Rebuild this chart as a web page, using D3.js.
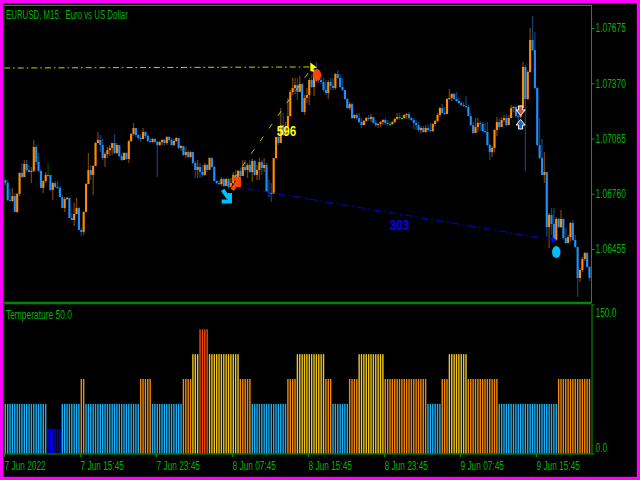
<!DOCTYPE html>
<html><head><meta charset="utf-8">
<script src="https://cdn.jsdelivr.net/npm/d3@7/dist/d3.min.js"></script>
<style>html,body{margin:0;padding:0;background:#000}svg{display:block}text{font-family:"Liberation Sans",Arial,sans-serif;white-space:pre}</style>
</head><body><svg id="c" width="640" height="480"></svg>
<script>
// Prices are in points (1e-5) above 1.06000
const BASE_PRICE = 1.06;
const FIRST_OPEN = 836;
const closePts = [
819,725,720,748,659,759,875,852,924,891,880,886,1018,935,886,792,830,864,864,781,
819,797,792,742,681,731,737,626,615,648,681,560,549,659,814,891,864,913,1040,1057,
1029,957,979,1001,1013,1040,985,1029,968,946,985,952,1051,1090,1123,1084,1068,1062,1101,1079,
1051,1046,1062,1046,1029,1046,1057,1040,1073,1057,1029,1051,1068,1013,1024,974,990,963,990,930,
891,908,880,864,919,891,957,908,830,819,814,841,803,841,797,819,864,847,886,858,
908,891,919,880,941,864,891,935,902,919,770,764,759,957,1073,1040,1139,1084,1123,1189,
1322,1344,1360,1322,1366,1211,1289,1305,1388,1349,1415,1399,1388,1377,1333,1316,1377,1355,1344,1421,
1399,1349,1333,1283,1233,1255,1178,1195,1178,1156,1139,1162,1178,1173,1184,1151,1139,1145,1156,1167,
1151,1145,1145,1156,1173,1184,1178,1178,1195,1200,1178,1167,1151,1139,1112,1123,1101,1123,1112,1106,
1145,1162,1195,1233,1206,1200,1283,1289,1311,1283,1272,1261,1250,1244,1239,1189,1139,1095,1128,1151,
1145,1106,1101,1029,990,1013,1112,1156,1128,1167,1178,1139,1178,1233,1239,1189,1184,1233,1460,1283,
1432,1609,1553,1344,1029,957,864,880,576,643,593,505,621,576,621,516,488,521,599,505,
466,295,339,400,433,356,295];
const highPts = [
841,836,786,792,764,764,880,930,946,946,919,908,1057,1029,985,897,836,880,930,864,
825,830,830,803,753,742,742,737,654,709,737,687,571,665,819,985,919,919,1046,1101,
1084,1062,990,1018,1029,1040,1090,1040,1024,985,990,990,1057,1095,1151,1123,1090,1090,1123,1106,
1090,1068,1068,1068,1051,1051,1062,1062,1079,1079,1068,1062,1073,1062,1029,1018,1018,1001,996,990,
941,946,930,919,930,924,963,963,913,836,836,852,847,847,847,847,880,891,891,902,
946,946,930,946,952,946,919,957,946,957,930,836,819,957,1073,1123,1233,1206,1156,1289,
1333,1399,1399,1399,1410,1371,1305,1344,1399,1415,1454,1487,1427,1421,1399,1388,1388,1399,1399,1427,
1443,1421,1399,1333,1289,1266,1261,1200,1206,1206,1178,1167,1184,1195,1200,1184,1167,1151,1162,1173,
1178,1167,1162,1162,1178,1206,1206,1195,1200,1206,1211,1184,1178,1167,1156,1134,1134,1139,1139,1151,
1151,1167,1206,1239,1255,1239,1289,1338,1316,1316,1322,1289,1272,1266,1300,1250,1206,1156,1178,1178,
1162,1156,1151,1156,1035,1024,1117,1184,1178,1184,1195,1200,1195,1250,1244,1244,1250,1250,1487,1471,
1443,1675,1741,1653,1349,1178,1062,990,880,654,681,681,632,626,670,626,571,532,604,615,
532,466,350,411,438,438,361];
const lowPts = [
808,720,720,714,659,654,748,847,858,880,880,819,880,919,880,792,764,819,852,775,
725,792,786,742,681,659,725,626,615,582,654,560,527,532,659,814,836,753,913,1040,
990,946,908,957,968,974,979,979,963,941,946,946,930,1046,1079,1073,1057,1046,1062,1068,
1046,1040,1040,1040,852,1024,1029,1024,1029,1046,1024,1024,1046,1007,996,968,957,957,957,924,
847,847,847,852,858,880,902,902,830,814,808,803,797,803,786,797,814,836,830,852,
864,880,847,875,825,858,836,836,864,880,770,742,714,770,952,1029,1040,1079,1084,1123,
1184,1305,1311,1277,1322,1211,1195,1261,1250,1344,1300,1377,1371,1366,1322,1305,1283,1333,1333,1333,
1393,1344,1327,1277,1228,1222,1173,1173,1167,1151,1123,1139,1156,1162,1156,1145,1128,1123,1128,1139,
1139,1134,1134,1139,1151,1167,1167,1167,1173,1173,1167,1162,1117,1112,1101,1095,1095,1095,1101,1101,
1101,1134,1156,1184,1200,1195,1200,1277,1272,1277,1266,1255,1244,1239,1233,1189,1134,1090,1095,1101,
1106,1101,1095,1024,946,963,990,1079,1117,1128,1156,1134,1145,1178,1211,1178,1139,1178,1233,886,
1277,1427,1548,1338,1024,952,864,819,521,461,532,499,499,571,571,505,483,488,499,499,
461,190,273,328,389,350,278];
const tempLevels = [50,25,50,75,50,75,50,75,100,125,100,75,50,75,100,75,50,75,100,75,50,75,100,75,50,75];
const tempBarCounts = [18,6,8,2,23,5,13,4,3,4,13,5,15,4,12,3,7,4,11,18,6,3,8,13,25,14];
const priceTicks = [1.06455,1.0676,1.07065,1.0737,1.07675];
const tempTicks = [0,150];
const timeTickBars = [-0.5,31.5,63.5,95.5,127.5,159.5,191.5,223.5];
const timeLabels = ["7 Jun 2022","7 Jun 15:45","7 Jun 23:45","8 Jun 07:45","8 Jun 15:45","8 Jun 23:45","9 Jun 07:45","9 Jun 15:45"];
const titleText = "EURUSD, M15:  Euro vs US Dollar";
const subTitle = "Temperature 50.0";
const yellowLevelBars = [-0.5,129], yellowLevelPts = [1454,1460];
const yellowTrendBars = [96,129], yellowTrendPts = [841,1454];
const blueTrendBars = [95,231], blueTrendPts = [803,505];
const labelNames = ["596","303"], labelBars = [118.4,166], labelPts = [1109,593];

const GREEN="#00b400", UP="#ff8c00", DOWN="#1e90ff", DOJI="#00e000";
const tempColor = {25:"#0000e8",50:"#1eb0f5",75:"#f08a0a",100:"#f0c81e",125:"#f04a10"};
const price = p => BASE_PRICE + p/1e5;
const svg = d3.select("#c");
const x = d3.scaleLinear().domain([0,246]).range([5.3,589.5]);
const y = d3.scaleLinear().domain([1.06455,1.07675]).range([249,28]);
const yT = d3.scaleLinear().domain([0,150]).range([453.5,304.5]);
const yp = p => y(price(p));

svg.append("rect").attr("width",640).attr("height",480).attr("fill","#000");
// outer magenta frame
svg.append("rect").attr("x",1.5).attr("y",1.5).attr("width",637).attr("height",477).attr("fill","none").attr("stroke","#ff00ff").attr("stroke-width",3.4);

// candles
const candles = closePts.map((c,i)=>({i,c,o:i?closePts[i-1]:FIRST_OPEN,h:highPts[i],l:lowPts[i]}));
const col = d => d.c>d.o?UP:d.c<d.o?DOWN:DOJI;
const g = svg.append("g");
g.selectAll("line.w").data(candles).join("line").attr("class","w")
 .attr("x1",d=>x(d.i)).attr("x2",d=>x(d.i)).attr("y1",d=>yp(d.h)).attr("y2",d=>yp(d.l))
 .attr("stroke",d=>col(d)==DOJI?"#00a000":col(d)).attr("stroke-opacity",.45).attr("stroke-width",1.3);
g.selectAll("rect.b").data(candles).join("rect").attr("class","b")
 .attr("x",d=>x(d.i)-1.05).attr("width",2.1)
 .attr("y",d=>Math.min(yp(d.o),yp(d.c))).attr("height",d=>Math.max(1,Math.abs(yp(d.o)-yp(d.c))))
 .attr("fill",col);

// trend lines
const seg=(bars,pts,c,dash,w)=>svg.append("line").attr("x1",x(bars[0])).attr("x2",x(bars[1])).attr("y1",yp(pts[0])).attr("y2",yp(pts[1])).attr("stroke",c).attr("stroke-dasharray",dash).attr("stroke-width",w);
seg(yellowLevelBars,yellowLevelPts,"#d0d000","6,3,1.6,3",1);
seg(yellowTrendBars,yellowTrendPts,"#c0c000","5.5,10",1);
seg(blueTrendBars,blueTrendPts,"#0000e0","8,3,2,3",1);

// markers
const at=(i,p)=>`translate(${x(i)},${yp(p)})`;
svg.append("ellipse").attr("transform",at(131.2,1415)).attr("rx",4.2).attr("ry",6).attr("fill","#ff4500");
svg.append("ellipse").attr("transform",at(232,438)).attr("rx",4.2).attr("ry",6).attr("fill","#00bfff");
svg.append("path").attr("transform",at(129.5,1457)).attr("d","M-2.5,-5L4,0L0.5,1L1.5,4.5L-2.5,3.5Z").attr("fill","#ffff00");
svg.append("path").attr("transform",at(231,505)).attr("d","M-2.5,-3.5L2.5,0L-2.5,3.5Z").attr("fill","#0000ff");
// diagonal arrows
svg.append("path").attr("transform",at(93,748)).attr("d","M-3.5,-6L2.5,2.5M3.8,-3V5.7H-4.5").attr("fill","none").attr("stroke","#00bfff").attr("stroke-width",4);
svg.append("path").attr("transform",at(97,814)).attr("d","M-3.5,6L2.5,-2.5M-2.5,-5.3H3.3V3").attr("fill","none").attr("stroke","#ff4500").attr("stroke-width",4);
// block arrows with white rim
svg.append("path").attr("transform",at(217,1217)).attr("d","M-2,-5H2V-1H4.5L0,4.5L-4.5,-1H-2Z").attr("fill","#e04828").attr("stroke","#fff").attr("stroke-width",1);
svg.append("path").attr("transform",at(217,1145)).attr("d","M-2,5H2V1H4.5L0,-4.5L-4.5,1H-2Z").attr("fill","#1464b4").attr("stroke","#fff").attr("stroke-width",1);

// labels
const labCol=["#ffff00","#0000ff"];
labelNames.forEach((t,k)=>svg.append("text").attr("x",x(labelBars[k])).attr("y",yp(labelPts[k])+5.5)
 .attr("text-anchor","middle").attr("font-size",15).attr("font-weight","bold").attr("fill",labCol[k])
 .attr("textLength",19.5).attr("lengthAdjust","spacingAndGlyphs").text(t));

// temperature histogram
const temps = d3.merge(tempLevels.map((v,k)=>d3.range(tempBarCounts[k]).map(()=>v)));
svg.append("g").selectAll("rect").data(temps).join("rect")
 .attr("x",(d,i)=>x(i)-.7).attr("width",1.4).attr("y",d=>yT(d)).attr("height",d=>yT(0)-yT(d)).attr("fill",d=>tempColor[d]);

// frame
const frame=(x0,y0,x1,y1,c,w)=>svg.append("line").attr("x1",x0).attr("y1",y0).attr("x2",x1).attr("y2",y1).attr("stroke",c).attr("stroke-width",w);
frame(4,5.5,591.5,5.5,"#00a800",1);
frame(4,303,591.5,303,"#008800",2.6);
frame(3.9,5,3.9,454,"#008000",1.2);

// axes
const styleAxis=(sel)=>{sel.selectAll("path,line").attr("stroke","#00a000");sel.selectAll("text").attr("fill",GREEN).attr("font-size",12).attr("font-family",'"Liberation Sans"');};
const squeeze=(sel,f)=>sel.selectAll("text").each(function(){const n=this.getComputedTextLength();d3.select(this).attr("textLength",n*f).attr("lengthAdjust","spacingAndGlyphs");});

const ax1=svg.append("g").attr("transform","translate(591.5,0)").call(d3.axisRight(y).tickValues(priceTicks).tickSize(3).tickPadding(1).tickSizeOuter(0).tickFormat(d3.format(".5f")));
ax1.select("path").attr("d","M0,5V303");
styleAxis(ax1);squeeze(ax1,.7);
const ax2=svg.append("g").attr("transform","translate(591.5,0)").call(d3.axisRight(yT).tickValues(tempTicks).tickSize(3).tickPadding(1).tickSizeOuter(0).tickFormat(d3.format(".1f")));
styleAxis(ax2);squeeze(ax2,.7);
ax2.selectAll("text").attr("dy",d=>d?"11.5":"-2.2");
const ax3=svg.append("g").attr("transform","translate(0,454)").call(d3.axisBottom(x).tickValues(timeTickBars).tickSize(3).tickPadding(3).tickSizeOuter(0).tickFormat((d,i)=>timeLabels[i]));
ax3.select("path").attr("d","M3.5,0H591.5").attr("stroke-width",1);
styleAxis(ax3);
ax3.selectAll("text").attr("text-anchor","start").attr("x",0).attr("y",7).attr("dy","8.5");
squeeze(ax3,.69);

// titles
[[titleText,19,.655],[subTitle,319,.7]].forEach(([t,yy,f])=>{
 const e=svg.append("text").attr("x",6).attr("y",yy).attr("fill",GREEN).attr("font-size",12).text(t);
 e.attr("textLength",e.node().getComputedTextLength()*f).attr("lengthAdjust","spacingAndGlyphs");
});
</script></body></html>
